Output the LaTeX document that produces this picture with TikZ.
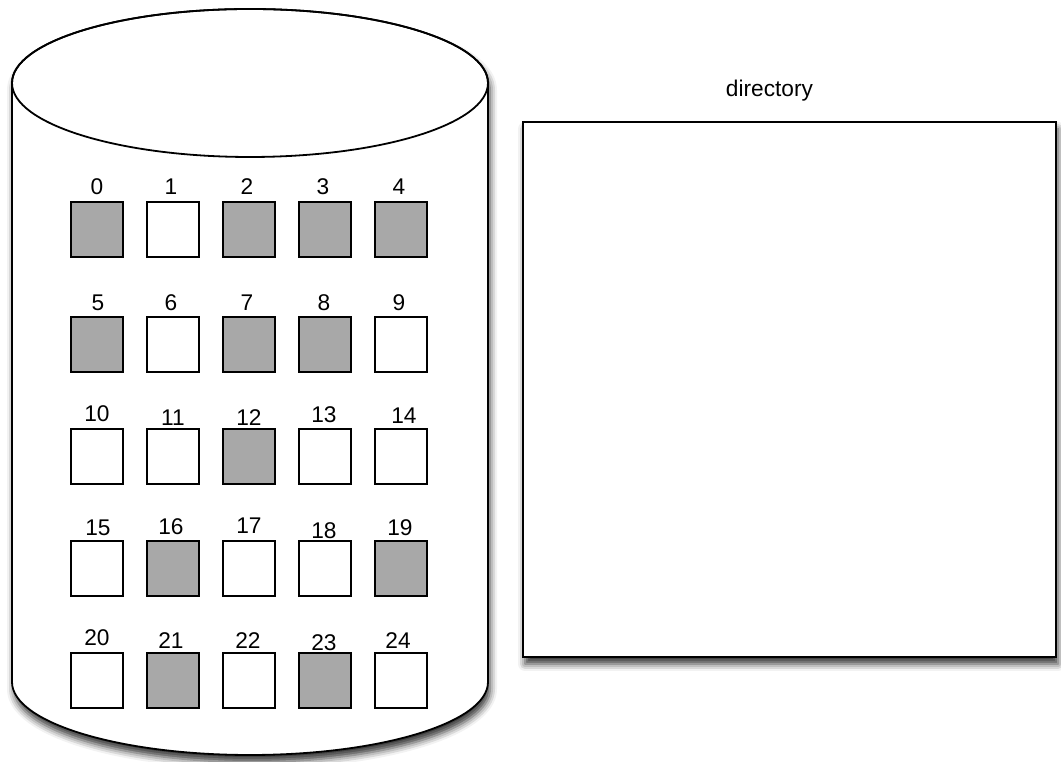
\documentclass[tikz,border=0pt]{standalone}
\usepackage{fontspec}
\setmainfont{Liberation Sans}
\usetikzlibrary{shadows.blur}
\tikzset{
  cell/.style={draw,line width=1.8pt,minimum width=52pt,minimum height=55pt,inner sep=0pt},
  used/.style={cell,fill=black!34},
  free/.style={cell,fill=white},
  num/.style={anchor=base,inner sep=0pt,font=\fontsize{22.7}{27}\selectfont},
  soft/.style={blur shadow={shadow xshift=2pt,shadow yshift=-7pt,shadow blur radius=7pt,shadow opacity=80}}
}
\begin{document}
\begin{tikzpicture}[x=1pt,y=1pt]
      \useasboundingbox (0,0) rectangle (1061,762);
      % disk
      \path[draw,line width=1.8pt,fill=white,soft]
        (12,679) -- (12,80) arc[start angle=180,end angle=360,x radius=238,y radius=73]
        -- (488,679) arc[start angle=0,end angle=180,x radius=238,y radius=74] -- cycle;
      \draw[line width=1.8pt] (250,679) ellipse [x radius=238,y radius=74];
      % blocks
      \node[used] (s0) at (97,532.5) {};
      \node[free] (s1) at (173,532.5) {};
      \node[used] (s2) at (249,532.5) {};
      \node[used] (s3) at (325,532.5) {};
      \node[used] (s4) at (401,532.5) {};
      \node[used] (s5) at (97,417.5) {};
      \node[free] (s6) at (173,417.5) {};
      \node[used] (s7) at (249,417.5) {};
      \node[used] (s8) at (325,417.5) {};
      \node[free] (s9) at (401,417.5) {};
      \node[free] (s10) at (97,305.5) {};
      \node[free] (s11) at (173,305.5) {};
      \node[used] (s12) at (249,305.5) {};
      \node[free] (s13) at (325,305.5) {};
      \node[free] (s14) at (401,305.5) {};
      \node[free] (s15) at (97,193.5) {};
      \node[used] (s16) at (173,193.5) {};
      \node[free] (s17) at (249,193.5) {};
      \node[free] (s18) at (325,193.5) {};
      \node[used] (s19) at (401,193.5) {};
      \node[free] (s20) at (97,81.5) {};
      \node[used] (s21) at (173,81.5) {};
      \node[free] (s22) at (249,81.5) {};
      \node[used] (s23) at (325,81.5) {};
      \node[free] (s24) at (401,81.5) {};
      % block numbers
      \node[num] (l0) at (97,567) {0};
      \node[num] (l1) at (171,567) {1};
      \node[num] (l2) at (247,567) {2};
      \node[num] (l3) at (323,567) {3};
      \node[num] (l4) at (399,567) {4};
      \node[num] (l5) at (98,451) {5};
      \node[num] (l6) at (171,451) {6};
      \node[num] (l7) at (247,451) {7};
      \node[num] (l8) at (324,451) {8};
      \node[num] (l9) at (399,451) {9};
      \node[num] (l10) at (97,340) {10};
      \node[num] (l11) at (173,336) {11};
      \node[num] (l12) at (249,336) {12};
      \node[num] (l13) at (324,339) {13};
      \node[num] (l14) at (404,338) {14};
      \node[num] (l15) at (98,226) {15};
      \node[num] (l16) at (171,227) {16};
      \node[num] (l17) at (249,228) {17};
      \node[num] (l18) at (324,223) {18};
      \node[num] (l19) at (400,226) {19};
      \node[num] (l20) at (97,116) {20};
      \node[num] (l21) at (171,113) {21};
      \node[num] (l22) at (248,113) {22};
      \node[num] (l23) at (324,111) {23};
      \node[num] (l24) at (398,113) {24};
      % directory
      \node[draw,line width=1.8pt,fill=white,soft,minimum width=533pt,minimum height=535pt,inner sep=0pt] (dir) at (789.5,372.5) {};
      \node[num] (dirname) at (769.5,665) {directory};
    \end{tikzpicture}
\end{document}
